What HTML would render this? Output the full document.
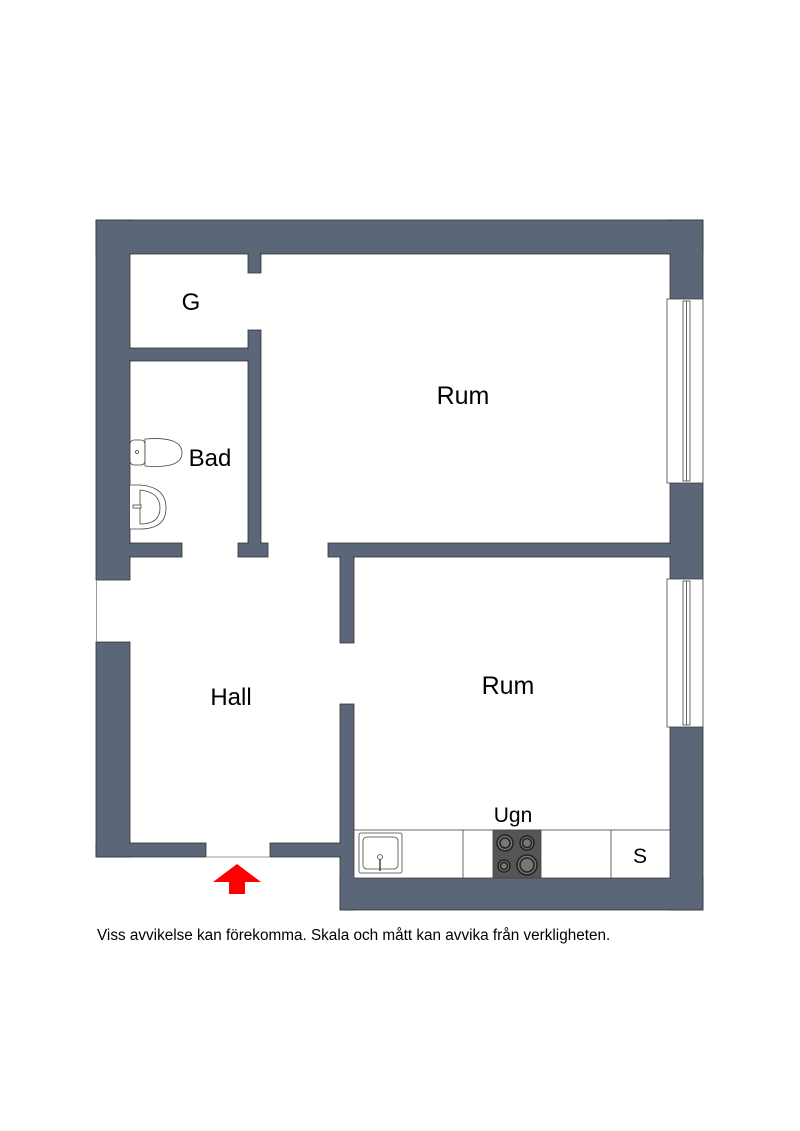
<!DOCTYPE html>
<html><head><style>
body{margin:0;background:#fff;}
svg{display:block}
text{font-family:"Liberation Sans",sans-serif;fill:#000}
</style></head><body>
<svg width="800" height="1131" viewBox="0 0 800 1131" xmlns="http://www.w3.org/2000/svg">
<g fill="#5b6779" stroke="#333" stroke-width="0.8">
<rect x="96" y="220" width="607" height="34"/>
<rect x="96" y="220" width="34" height="360"/>
<rect x="96" y="642" width="34" height="215"/>
<rect x="670" y="220" width="33" height="79"/>
<rect x="670" y="483" width="33" height="96"/>
<rect x="670" y="727" width="33" height="183"/>
<rect x="340" y="878" width="363" height="32"/>
<rect x="96" y="843" width="110" height="14"/>
<rect x="270" y="843" width="84" height="14"/>
<rect x="340" y="704" width="14" height="206"/>
<rect x="248" y="254" width="13" height="19"/>
<rect x="248" y="330" width="13" height="213"/>
<rect x="130" y="348" width="118" height="13"/>
<rect x="130" y="543" width="52" height="14"/>
<rect x="238" y="543" width="30" height="14"/>
<rect x="328" y="543" width="342" height="14"/>
<rect x="340" y="557" width="14" height="86"/>
</g>
<g stroke="none" fill="#5b6779">
<rect x="97" y="221" width="32" height="358"/>
<rect x="97" y="221" width="605" height="32"/>
<rect x="671" y="221" width="31" height="77"/>
<rect x="249" y="252" width="11" height="20"/>
<rect x="97" y="643" width="32" height="213"/>
<rect x="97" y="844" width="108" height="12"/>
<rect x="341" y="879" width="361" height="30"/>
<rect x="341" y="705" width="12" height="204"/>
<rect x="271" y="844" width="82" height="12"/>
<rect x="671" y="728" width="31" height="181"/>
<rect x="671" y="484" width="31" height="94"/>
<rect x="249" y="331" width="11" height="225"/>
<rect x="129" y="349" width="120" height="11"/>
<rect x="129" y="544" width="52" height="12"/>
<rect x="239" y="544" width="28" height="12"/>
<rect x="329" y="544" width="342" height="12"/>
<rect x="341" y="555" width="12" height="87"/>
</g>
<line x1="96.5" y1="580" x2="96.5" y2="642" stroke="#999" stroke-width="1"/>
<line x1="206" y1="857" x2="270" y2="857" stroke="#999" stroke-width="1"/>
<g fill="#fff" stroke="#444" stroke-width="0.8">
<rect x="667" y="299" width="36" height="184"/>
<rect x="683" y="301" width="7" height="180"/>
<line x1="686.5" y1="301" x2="686.5" y2="481"/>
<rect x="667" y="579" width="36" height="148"/>
<rect x="683" y="581" width="7" height="144"/>
<line x1="686.5" y1="581" x2="686.5" y2="725"/>
</g>
<g stroke="#444" stroke-width="0.8" fill="#fff">
<rect x="354" y="830" width="316" height="48"/>
<line x1="463" y1="830" x2="463" y2="878"/>
<line x1="611" y1="830" x2="611" y2="878"/>
<rect x="359" y="833" width="43" height="40" rx="2"/>
<rect x="363" y="837" width="35" height="32" rx="4"/>
<circle cx="380" cy="857" r="2.5"/>
<line x1="380" y1="859" x2="380" y2="871" stroke-width="1.5"/>
<rect x="493" y="830" width="48" height="48" fill="#555"/>
</g>
<g stroke="#222" stroke-width="1.5" fill="#777">
<circle cx="505" cy="843" r="8"/>
<circle cx="527" cy="843" r="7"/>
<circle cx="504" cy="866" r="6"/>
<circle cx="527" cy="865" r="10"/>
<circle cx="527" cy="865" r="7"/>
<circle cx="505" cy="843" r="5"/>
<circle cx="527" cy="843" r="4.5"/>
<circle cx="504" cy="866" r="3.5"/>
</g>
<g fill="#fff" stroke="#444" stroke-width="0.8">
<rect x="130" y="440" width="15" height="25" rx="4"/>
<path d="M145 439 Q 182 436 182 453 Q 182 469 145 466 Z"/>
<circle cx="137" cy="452" r="1.5"/>
<path d="M130 485 L140 485 Q 166 487 166 508 Q 166 529 140 529 L130 529"/>
<path d="M140 490 Q 160 492 160 508 Q 160 524 140 524 Z"/>
<rect x="133" y="505" width="8" height="3"/>
</g>
<polygon points="237,864 261,882 245,882 245,894 229,894 229,882 213,882" fill="#f00"/>
<text x="191" y="310" font-size="24" text-anchor="middle">G</text>
<text x="463" y="404" font-size="25" text-anchor="middle">Rum</text>
<text x="210" y="466" font-size="24" text-anchor="middle">Bad</text>
<text x="231" y="705" font-size="24" text-anchor="middle">Hall</text>
<text x="508" y="694" font-size="25" text-anchor="middle">Rum</text>
<text x="513" y="822" font-size="21" text-anchor="middle">Ugn</text>
<text x="640" y="863" font-size="21" text-anchor="middle">S</text>
<text x="97" y="940" font-size="15.3">Viss avvikelse kan förekomma. Skala och mått kan avvika från verkligheten.</text>
</svg>
</body></html>
